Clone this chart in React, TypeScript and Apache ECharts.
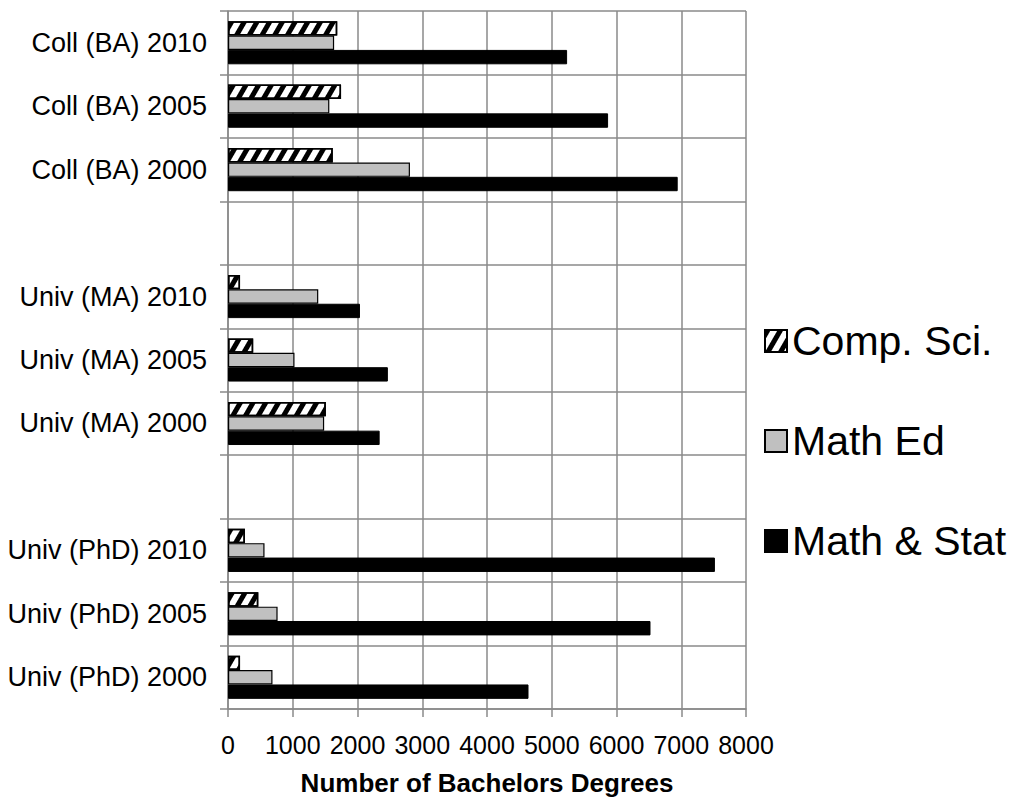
import React, { useEffect, useRef } from "react";
import * as echarts from "echarts";

const categories = [
  "Univ (PhD) 2000",
  "Univ (PhD) 2005",
  "Univ (PhD) 2010",
  " ",
  "Univ (MA) 2000",
  "Univ (MA) 2005",
  "Univ (MA) 2010",
  "  ",
  "Coll (BA) 2000",
  "Coll (BA) 2005",
  "Coll (BA) 2010",
];

const compSci = [186, 468, 261, null, 1511, 389, 186, null, 1618, 1746, 1687];
const mathEd = [687, 766, 564, null, 1485, 1027, 1394, null, 2810, 1565, 1639];
const mathStat = [4641, 6525, 7520, null, 2342, 2469, 2038, null, 6945, 5870, 5237];

const xTicks = { min: 0, max: 8000, interval: 1000 };
const legendNames = ["Comp. Sci.", "Math Ed", "Math & Stat"];

const FONT = "'Liberation Sans', Arial, sans-serif";
const GRID = "#8a8a8a";

export default function App() {
  const ref = useRef<HTMLDivElement>(null);
  useEffect(() => {
    if (!ref.current) return;
    const chart = echarts.init(ref.current, null, { renderer: "svg" });
    chart.setOption({
      animation: false,
      backgroundColor: "#fff",
      textStyle: { fontFamily: FONT },
      grid: { left: 228, right: 276, top: 11, bottom: 85, containLabel: false },
      legend: {
        orient: "vertical",
        left: 759,
        top: 314,
        icon: "rect",
        itemWidth: 22,
        itemHeight: 22,
        itemGap: 56,
        data: legendNames,
        textStyle: { fontSize: 41, color: "#000", fontFamily: FONT, lineHeight: 44 },
      },
      xAxis: {
        type: "value",
        min: xTicks.min,
        max: xTicks.max,
        interval: xTicks.interval,
        axisLine: { show: true, lineStyle: { color: GRID, width: 1.5 } },
        axisTick: { show: true, length: 8, lineStyle: { color: GRID, width: 1.5 } },
        splitLine: { show: true, lineStyle: { color: GRID, width: 1.5 } },
        axisLabel: {
          fontSize: 25,
          color: "#000",
          margin: 23,
          fontFamily: FONT,
          formatter: (v: number) => String(v),
        },
        name: "Number of Bachelors Degrees",
        nameLocation: "middle",
        nameGap: 61,
        nameTextStyle: { fontSize: 26, fontWeight: "bold", color: "#000", fontFamily: FONT },
      },
      yAxis: {
        type: "category",
        data: categories,
        boundaryGap: true,
        axisLine: { show: true, lineStyle: { color: GRID, width: 1.5 } },
        axisTick: { show: true, length: 8, interval: 0, lineStyle: { color: GRID, width: 1.5 } },
        splitLine: { show: true, interval: 0, lineStyle: { color: GRID, width: 1.5 } },
        axisLabel: { fontSize: 27, color: "#000", margin: 21, interval: 0, fontFamily: FONT },
      },
      series: [
        {
          name: "Comp. Sci.",
          type: "bar",
          data: compSci,
          barGap: "0%",
          barCategoryGap: "32%",
          itemStyle: {
            color: "#fff",
            borderColor: "#000",
            borderWidth: 1.5,
            decal: {
              symbol: "rect",
              symbolSize: 1,
              color: "#000",
              backgroundColor: "#fff",
              dashArrayX: [1, 0],
              dashArrayY: [5, 6],
              rotation: -Math.PI / 3,
            },
          },
        },
        {
          name: "Math Ed",
          type: "bar",
          data: mathEd,
          barGap: "0%",
          barCategoryGap: "32%",
          itemStyle: { color: "#c0c0c0", borderColor: "#000", borderWidth: 1.2 },
        },
        {
          name: "Math & Stat",
          type: "bar",
          data: mathStat,
          barGap: "0%",
          barCategoryGap: "32%",
          itemStyle: { color: "#000", borderColor: "#000", borderWidth: 1 },
        },
      ],
    });
    return () => chart.dispose();
  }, []);
  return (
    <div
      ref={ref}
      style={{ position: "absolute", left: 0, top: 0, width: 1022, height: 801 }}
    />
  );
}
